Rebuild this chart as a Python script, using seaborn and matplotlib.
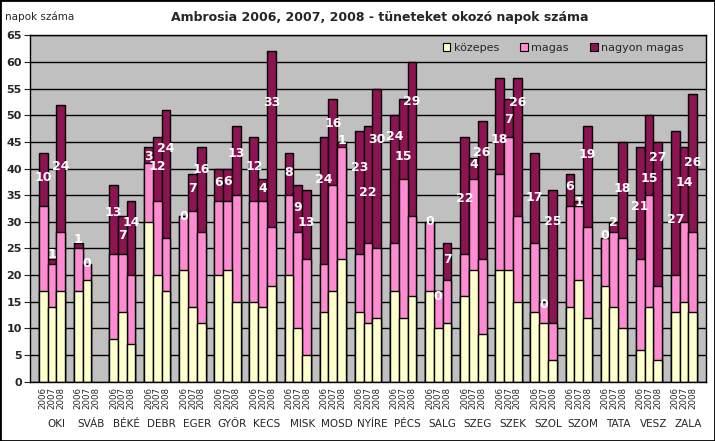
import numpy as np
import pandas as pd
import matplotlib
matplotlib.use("Agg")
import matplotlib.pyplot as plt
import matplotlib.transforms as mtransforms
from matplotlib.patches import Patch, Rectangle
import seaborn as sns

# cities, each with 2006 / 2007 / 2008
cities = ["OKI", "SVÁB", "BÉKÉ", "DEBR", "EGER", "GYŐR", "KECS", "MISK", "MOSD",
          "NYÍRE", "PÉCS", "SALG", "SZEG", "SZEK", "SZOL", "SZOM", "TATA", "VESZ", "ZALA"]
years = ["2006", "2007", "2008"]

# days per level (None = no data)
kozepes = [17, 14, 17,  17, 19, None,  8, 13, 7,  30, 20, 17,  21, 14, 11,
           20, 21, 15,  15, 14, 18,  20, 10, 5,  13, 17, 23,  13, 11, 12,
           17, 12, 16,  17, 10, 11,  16, 21, 9,  21, 21, 15,  13, 11, 4,
           14, 19, 12,  18, 14, 10,  6, 14, 4,  13, 15, 13]
magas = [16, 8, 11,  8, 3, None,  16, 11, 13,  11, 14, 10,  10, 18, 17,
         14, 13, 20,  19, 20, 11,  15, 18, 18,  9, 20, 21,  11, 15, 13,
         9, 26, 15,  13, 7, 8,  8, 17, 14,  18, 25, 16,  13, 4, 7,
         19, 14, 17,  9, 14, 17,  17, 21, 14,  7, 15, 15]
nagyon = [10, 1, 24,  1, 0, None,  13, 7, 14,  3, 12, 24,  0, 7, 16,
          6, 6, 13,  12, 4, 33,  8, 9, 13,  24, 16, 1,  23, 22, 30,
          24, 15, 29,  0, 0, 7,  22, 4, 26,  18, 7, 26,  17, 0, 25,
          6, 1, 19,  0, 2, 18,  21, 15, 27,  27, 14, 26]

# where the white labels sit in the original (they were moved by hand)
label_y = [38.3, 23.8, 40.4,  26.6, 22.2, None,  31.7, 27.4, 29.8,  42.3, 40.4, 43.8,
           31.0, 36.3, 39.8,  37.3, 37.6, 42.9,  40.4, 36.2, 52.3,  39.3, 32.7, 29.8,
           37.9, 48.4, 45.3,  40.1, 35.5, 45.5,  46.0, 42.3, 52.6,  30.1, 16.0, 22.9,
           34.3, 40.7, 43.1,  45.4, 49.2, 52.3,  34.6, 14.4, 30.1,  36.6, 33.6, 42.6,
           27.4, 29.8, 36.3,  32.9, 38.2, 42.0,  30.5, 37.3, 41.2]

c_koz = "#FFFFCC"
c_mag = "#FF8CD2"
c_nagy = "#8C1452"

rows = []
for i, city in enumerate(cities):
    for j, year in enumerate(years):
        k = 3 * i + j
        if kozepes[k] is None:
            continue
        rows.append({"pos": 1 + 4 * i + j + 0.5, "city": city, "year": year,
                     "kozepes": kozepes[k], "magas": magas[k], "nagyon": nagyon[k],
                     "ly": label_y[k]})
df = pd.DataFrame(rows)
df["mid"] = df["kozepes"] + df["magas"]
df["total"] = df["mid"] + df["nagyon"]

sns.set_style("white")
plt.rcParams["font.family"] = ["DejaVu Sans"]

fig = plt.figure(figsize=(7.15, 4.41), dpi=100)
ax = fig.add_axes([30 / 715, 1 - 381.7 / 441, 676 / 715, 346.4 / 441])
ax.set_facecolor("#C0C0C0")

# stacked look: draw totals first, then the lower parts over them
for col, color in [("total", c_nagy), ("mid", c_mag), ("kozepes", c_koz)]:
    sns.barplot(data=df, x="pos", y=col, native_scale=True, width=1, color=color,
                saturation=1, edgecolor="black", linewidth=1, errorbar=None, ax=ax)

# white labels of the top segment
for _, r in df.iterrows():
    ax.text(r["pos"], r["ly"], str(int(r["nagyon"])), ha="center",
            va="center", color="white", fontsize=9, fontweight="bold", zorder=5)

ax.set_xlim(0, 77)
ax.set_ylim(0, 65)
ax.set_yticks(np.arange(0, 66, 5))
tick_pos = [1 + 4 * i + j + 0.5 for i in range(len(cities)) for j in range(3)]
ax.set_xticks(tick_pos)
ax.set_xticklabels(years * len(cities), rotation=90, fontsize=6.2)
ax.tick_params(axis="x", length=0, pad=4)
ax.tick_params(axis="y", length=4, direction="out", labelsize=8, pad=2, left=True)
for t in ax.get_yticklabels():
    t.set_fontweight("bold")
ax.set_xlabel("")
ax.set_ylabel("")
ax.yaxis.grid(True, color="black", linewidth=1)
ax.set_axisbelow(True)
for s in ax.spines.values():
    s.set_visible(True)
    s.set_color("black")
    s.set_linewidth(1)

trans = mtransforms.blended_transform_factory(ax.transData, ax.transAxes)
for i, city in enumerate(cities):
    ax.text(1 + 4 * i + 2, -0.122, city, transform=trans, ha="center", va="center",
            fontsize=7.5)

handles = [Patch(facecolor=c, edgecolor="black", linewidth=0.8) for c in (c_koz, c_mag, c_nagy)]
fig.legend(handles, ["közepes", "magas", "nagyon magas"], loc="center",
           bbox_to_anchor=(563 / 715, 1 - 47.7 / 441), ncol=3, frameon=False, fontsize=8,
           handlelength=0.7, handleheight=0.7, handletextpad=0.3, columnspacing=1.9)

fig.text(380 / 715, 1 - 17 / 441, "Ambrosia 2006, 2007, 2008 - tüneteket okozó napok száma",
         ha="center", va="center", fontsize=9, fontweight="bold")
fig.text(5 / 715, 1 - 17 / 441, "napok száma", ha="left", va="center", fontsize=7.5)

fig.add_artist(Rectangle((0, 0), 1, 1, transform=fig.transFigure, fill=False,
                         edgecolor="black", linewidth=2))

fig.savefig("out.png", dpi=100)
